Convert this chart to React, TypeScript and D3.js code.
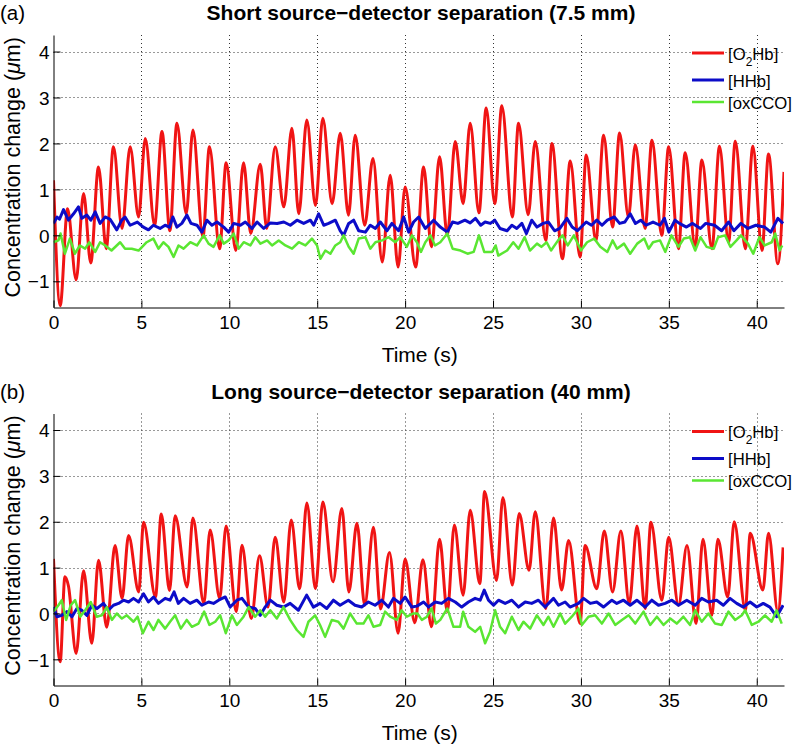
import React, { useRef, useEffect } from "react";
import * as d3 from "d3";

type Pt = [number, number];

// axis ticks
const xTicks = [0, 5, 10, 15, 20, 25, 30, 35, 40];
const yTicks = [-1, 0, 1, 2, 3, 4];
const xMax = 41.55;
const yMin = -1.57;
const yMax = 4.36;

const legendLabels = ["O2Hb", "HHb", "oxCCO"];
const lineColors = ["#f01414", "#0c0cc8", "#5ae632"];
const lineWidths = [3, 3, 2.5];

// (a) short separation, 7.5 mm
const shortO2Hb: Pt[] = [[0,1.2],[0.38,-1.53],[0.8,0.58],[1.29,-0.97],[1.71,0.91],[2.12,-0.6],[2.56,1.49],[3.0,-0.29],[3.41,1.93],[3.9,0.15],[4.36,1.93],[4.84,0.4],[5.22,2.11],[5.75,0.22],[6.17,2.26],[6.62,0.1],[7.02,2.44],[7.55,0.47],[7.93,2.29],[8.5,-0.04],[8.87,1.93],[9.45,-0.29],[9.82,1.58],[10.37,-0.33],[10.81,1.58],[11.22,0.04],[11.76,1.55],[12.13,0.15],[12.61,1.93],[13.1,0.62],[13.56,2.33],[13.95,0.47],[14.41,2.51],[14.9,0.65],[15.32,2.55],[15.85,0.69],[16.31,2.22],[16.78,0.44],[17.16,2.18],[17.7,0.22],[18.17,1.67],[18.7,-0.58],[19.15,1.31],[19.6,-0.69],[20.0,1.05],[20.6,-0.69],[21.05,1.49],[21.5,-0.25],[21.96,1.71],[22.4,0.0],[22.85,2.04],[23.3,0.69],[23.7,2.44],[24.2,0.49],[24.61,2.77],[25.1,0.69],[25.5,2.82],[26.1,0.4],[26.45,2.44],[27.0,0.45],[27.4,2.04],[28.0,-0.11],[28.35,2.0],[28.95,-0.51],[29.39,1.62],[29.95,-0.47],[30.3,1.75],[30.85,-0.11],[31.29,2.18],[31.8,0.18],[32.2,2.23],[32.7,0.4],[33.09,1.97],[33.65,0.15],[34.04,2.07],[34.6,0.0],[34.99,1.93],[35.55,-0.29],[35.93,1.8],[36.5,-0.25],[36.88,1.64],[37.45,-0.29],[37.88,1.94],[38.4,-0.15],[38.78,2.05],[39.35,-0.29],[39.78,1.94],[40.3,-0.33],[40.67,1.77],[41.2,-0.62],[41.55,1.38]];

const shortHHb: Pt[] = [[0,0.26],[0.2,0.4],[0.34,0.35],[0.57,0.56],[0.85,0.33],[1.14,0.47],[1.42,0.62],[1.61,0.37],[1.9,0.44],[2.12,0.33],[2.37,0.51],[2.65,0.26],[2.94,0.4],[3.22,0.35],[3.6,0.12],[3.88,0.33],[4.07,0.4],[4.36,0.22],[4.77,0.29],[5.11,0.18],[5.4,0.12],[5.68,0.22],[6.06,0.15],[6.35,0.22],[6.6,0.18],[6.79,0.4],[7.02,0.18],[7.3,0.26],[7.59,0.44],[7.82,0.26],[8.16,0.22],[8.44,0.07],[8.73,0.33],[9.01,0.22],[9.3,0.29],[9.68,0.18],[9.96,0.07],[10.25,0.26],[10.63,0.22],[10.91,0.29],[11.29,0.15],[11.58,0.29],[11.96,0.15],[12.34,0.27],[12.72,0.26],[13.1,0.29],[13.47,0.22],[13.85,0.33],[14.23,0.26],[14.61,0.33],[14.8,0.22],[15.08,0.47],[15.37,0.22],[15.65,0.26],[16.03,0.33],[16.31,0.1],[16.5,0.0],[16.79,0.26],[17.07,0.33],[17.36,0.1],[17.74,0.07],[18.02,0.22],[18.31,0.15],[18.59,0.29],[18.97,0.1],[19.25,0.26],[19.63,0.1],[19.92,0.4],[20.2,0.07],[20.48,0.29],[20.77,0.4],[21.15,0.15],[21.62,0.33],[22.0,0.18],[22.4,0.07],[22.7,0.29],[23.0,0.26],[23.4,0.33],[23.7,0.27],[24.0,0.37],[24.3,0.22],[24.55,0.29],[24.85,0.26],[25.1,0.33],[25.4,0.15],[25.8,0.1],[26.07,0.22],[26.35,0.15],[26.64,0.26],[26.9,0.04],[27.2,0.33],[27.5,0.18],[27.85,0.26],[28.15,0.29],[28.5,0.1],[28.8,0.15],[29.2,0.37],[29.5,0.18],[29.8,0.1],[30.3,0.29],[30.6,0.22],[30.9,0.33],[31.2,0.22],[31.5,0.33],[31.9,0.4],[32.2,0.26],[32.5,0.29],[32.8,0.47],[33.1,0.26],[33.4,0.33],[33.7,0.22],[34.1,0.29],[34.5,0.22],[34.75,0.37],[35.0,0.07],[35.35,0.33],[35.6,0.26],[36.0,0.18],[36.35,0.26],[36.8,0.15],[37.1,0.26],[37.6,0.22],[38.0,0.1],[38.4,0.29],[38.7,0.1],[39.1,0.26],[39.5,0.15],[39.95,0.22],[40.45,0.18],[40.8,0.07],[41.2,0.37],[41.5,0.26]];

const shortOxCCO: Pt[] = [[0,-0.15],[0.28,-0.11],[0.4,0.04],[0.65,-0.4],[0.93,-0.07],[1.22,-0.4],[1.5,-0.22],[1.8,-0.29],[2.04,-0.15],[2.37,-0.36],[2.65,-0.15],[2.94,-0.22],[3.3,-0.33],[3.79,-0.15],[4.07,-0.29],[4.45,-0.29],[4.84,-0.33],[5.3,-0.15],[5.68,-0.07],[5.97,-0.29],[6.25,-0.15],[6.54,-0.25],[6.83,-0.47],[7.11,-0.22],[7.4,-0.29],[7.78,-0.15],[8.16,-0.22],[8.54,0.0],[8.82,-0.18],[9.1,-0.25],[9.45,0.0],[9.68,-0.18],[9.96,-0.11],[10.25,0.04],[10.53,-0.29],[10.82,-0.15],[11.2,-0.22],[11.48,-0.04],[11.77,-0.18],[12.15,-0.11],[12.43,-0.22],[12.81,-0.11],[13.19,-0.22],[13.57,-0.29],[13.95,-0.15],[14.33,-0.22],[14.7,-0.07],[14.99,-0.22],[15.18,-0.51],[15.46,-0.33],[15.75,-0.4],[16.03,-0.22],[16.31,-0.15],[16.5,0.0],[16.79,-0.25],[17.07,-0.4],[17.36,-0.07],[17.74,-0.04],[18.02,-0.29],[18.31,-0.15],[18.69,-0.11],[19.06,-0.04],[19.44,-0.15],[19.72,-0.04],[20.1,-0.25],[20.39,0.0],[20.67,-0.15],[20.9,-0.36],[21.15,-0.15],[21.44,0.0],[21.7,-0.22],[22.0,-0.15],[22.4,0.04],[22.7,-0.29],[23.15,-0.33],[23.55,-0.4],[23.9,-0.36],[24.2,0.0],[24.5,-0.36],[24.95,-0.36],[25.15,-0.22],[25.3,-0.44],[25.8,-0.33],[26.15,-0.15],[26.45,-0.29],[26.8,-0.04],[27.1,-0.33],[27.5,-0.18],[27.75,-0.25],[28.05,-0.15],[28.3,-0.33],[28.7,-0.11],[28.95,0.0],[29.25,-0.22],[29.6,0.0],[30.0,-0.33],[30.35,-0.15],[30.75,-0.07],[31.1,-0.25],[31.5,-0.36],[31.8,-0.11],[32.05,-0.29],[32.45,-0.18],[32.8,-0.4],[33.2,-0.18],[33.6,-0.07],[33.85,-0.29],[34.1,-0.15],[34.5,-0.11],[34.8,-0.36],[35.15,0.0],[35.55,-0.25],[35.85,-0.07],[36.2,-0.04],[36.5,-0.33],[36.8,-0.04],[37.15,-0.25],[37.55,-0.29],[37.8,-0.04],[38.2,0.0],[38.5,-0.25],[38.85,-0.11],[39.1,0.0],[39.5,-0.18],[39.8,-0.4],[40.15,-0.04],[40.45,-0.22],[40.85,-0.15],[41.05,0.04],[41.3,-0.33],[41.45,-0.22]];

// (b) long separation, 40 mm
const longO2Hb: Pt[] = [[0,1.19],[0.38,-1.05],[0.65,0.8],[0.85,0.6],[1.29,-0.87],[1.71,0.93],[2.18,-0.65],[2.56,1.16],[3.03,-0.3],[3.5,1.48],[3.9,0.33],[4.27,1.7],[4.85,0.47],[5.12,1.99],[5.8,0.36],[6.13,2.17],[6.6,0.5],[6.92,2.13],[7.6,0.58],[7.93,2.08],[8.55,0.22],[8.91,1.82],[9.45,0.33],[9.82,1.91],[10.4,0.04],[10.72,1.49],[11.25,-0.11],[11.72,1.26],[12.2,0.14],[12.61,1.66],[13.1,0.25],[13.52,2.04],[14.0,0.54],[14.41,2.41],[14.9,0.54],[15.32,2.43],[15.9,0.69],[16.4,2.29],[16.8,0.47],[17.26,1.97],[17.7,0.18],[18.2,1.88],[18.6,0.1],[19.11,1.33],[19.6,-0.43],[20.0,1.19],[20.55,-0.2],[21.01,1.17],[21.5,-0.29],[21.96,1.62],[22.4,0.04],[22.8,1.93],[23.3,0.4],[23.7,2.25],[24.25,0.65],[24.52,2.66],[25.2,0.72],[25.56,2.53],[26.1,0.62],[26.49,2.18],[27.05,0.94],[27.4,2.22],[28.0,0.11],[28.44,2.08],[28.9,0.51],[29.3,1.59],[29.95,-0.22],[30.24,1.48],[30.9,0.54],[31.33,1.8],[31.8,0.47],[32.27,1.8],[32.75,0.22],[33.19,1.91],[33.65,0.11],[33.98,1.99],[34.6,0.29],[34.99,1.66],[35.55,0.18],[36.03,1.48],[36.55,-0.22],[36.94,1.62],[37.45,-0.04],[37.79,1.62],[38.35,0.36],[38.72,2.0],[39.35,0.07],[39.63,1.75],[40.35,0.51],[40.67,1.75],[41.2,0.04],[41.5,1.44]];

const longHHb: Pt[] = [[0,0.14],[0.2,-0.07],[0.47,-0.04],[0.76,0.04],[1.05,-0.07],[1.33,0.11],[1.61,0.07],[1.9,-0.04],[2.18,0.18],[2.47,0.11],[2.84,0.22],[3.12,0.07],[3.41,0.18],[3.7,0.22],[3.98,0.29],[4.27,0.25],[4.55,0.33],[4.84,0.25],[5.12,0.43],[5.4,0.25],[5.69,0.36],[5.97,0.22],[6.35,0.33],[6.63,0.29],[6.86,0.47],[7.1,0.22],[7.4,0.33],[7.77,0.22],[8.15,0.29],[8.44,0.18],[8.82,0.25],[9.1,0.22],[9.39,0.29],[9.77,0.36],[10.05,0.14],[10.43,0.29],[10.72,0.33],[11.1,0.14],[11.47,0.11],[11.76,-0.04],[12.04,0.14],[12.33,0.29],[12.7,0.18],[13.08,0.14],[13.46,0.22],[13.93,0.07],[14.4,0.4],[14.78,0.14],[15.16,0.22],[15.54,0.11],[15.92,0.29],[16.3,0.18],[16.77,0.29],[17.15,0.18],[17.53,0.14],[17.91,0.25],[18.29,0.18],[18.67,0.29],[19.05,0.14],[19.34,0.33],[19.72,0.22],[20.0,0.36],[20.38,0.14],[20.67,0.16],[21.05,0.25],[21.33,0.14],[21.71,0.25],[22.08,0.22],[22.46,0.33],[22.85,0.25],[23.22,0.14],[23.6,0.25],[23.98,0.33],[24.27,0.29],[24.5,0.51],[24.74,0.29],[25.03,0.18],[25.31,0.29],[25.69,0.22],[26.07,0.29],[26.45,0.14],[26.83,0.25],[27.2,0.22],[27.58,0.29],[27.96,0.14],[28.44,0.33],[28.72,0.18],[29.1,0.25],[29.38,0.14],[29.86,0.22],[30.15,0.33],[30.53,0.22],[30.9,0.25],[31.28,0.14],[31.76,0.29],[32.04,0.22],[32.42,0.29],[32.8,0.18],[33.18,0.29],[33.65,0.14],[34.03,0.29],[34.41,0.18],[34.79,0.22],[35.17,0.29],[35.55,0.18],[36.02,0.29],[36.5,0.18],[36.87,0.33],[37.25,0.25],[37.72,0.29],[38.1,0.18],[38.48,0.33],[38.86,0.22],[39.24,0.14],[39.62,0.25],[40.0,0.14],[40.37,0.22],[40.75,0.14],[41.13,-0.07],[41.5,0.18]];

const longOxCCO: Pt[] = [[0,0.04],[0.28,0.18],[0.47,0.29],[0.72,-0.14],[0.98,0.18],[1.23,0.29],[1.52,-0.07],[1.8,0.07],[2.12,0.25],[2.46,-0.07],[2.75,-0.04],[3.03,0.14],[3.32,-0.14],[3.6,0.0],[3.89,-0.11],[4.17,-0.04],[4.55,-0.18],[4.78,-0.07],[5.08,-0.43],[5.4,-0.18],[5.69,-0.36],[5.97,-0.14],[6.35,-0.33],[6.63,-0.18],[6.92,-0.04],[7.24,-0.33],[7.58,-0.14],[7.87,-0.29],[8.25,-0.22],[8.57,0.04],[8.87,-0.25],[9.2,-0.18],[9.48,-0.04],[9.8,-0.43],[10.15,-0.04],[10.43,-0.25],[10.81,-0.07],[11.1,0.14],[11.47,-0.07],[11.76,0.07],[12.04,-0.07],[12.33,0.07],[12.7,-0.11],[13.08,0.14],[13.46,-0.14],[13.84,-0.36],[14.22,-0.51],[14.5,-0.18],[14.88,-0.04],[15.16,-0.25],[15.45,-0.51],[15.83,-0.14],[16.2,-0.18],[16.5,-0.33],[16.87,0.0],[17.25,-0.22],[17.63,-0.22],[17.91,-0.04],[18.2,-0.29],[18.58,-0.25],[18.86,0.04],[19.15,-0.07],[19.53,-0.14],[19.8,0.07],[20.1,-0.07],[20.48,0.0],[20.7,0.0],[20.95,-0.14],[21.24,-0.07],[21.5,0.11],[21.75,-0.22],[22.0,-0.14],[22.4,0.11],[22.75,-0.29],[23.13,-0.29],[23.3,0.04],[23.6,-0.29],[23.98,-0.4],[24.27,-0.29],[24.55,-0.65],[24.83,-0.4],[25.12,0.07],[25.4,-0.29],[25.69,-0.43],[26.07,-0.07],[26.45,-0.36],[26.73,-0.18],[27.11,-0.33],[27.49,-0.04],[27.87,-0.25],[28.15,-0.07],[28.44,-0.29],[28.82,0.0],[29.1,-0.22],[29.48,-0.07],[29.86,0.11],[30.05,-0.25],[30.43,-0.07],[30.81,-0.04],[31.19,-0.22],[31.57,0.0],[31.95,-0.25],[32.33,-0.14],[32.71,-0.04],[33.09,-0.22],[33.56,0.04],[33.94,-0.25],[34.32,-0.07],[34.7,-0.25],[35.08,-0.11],[35.45,-0.22],[35.83,-0.07],[36.21,-0.25],[36.5,0.07],[36.87,-0.18],[37.25,0.0],[37.63,-0.22],[38.01,-0.25],[38.39,0.04],[38.77,-0.14],[39.15,-0.04],[39.34,0.07],[39.72,-0.25],[40.1,-0.18],[40.47,-0.04],[40.85,-0.18],[41.13,0.07],[41.42,-0.22]];

const panels = [
    { tag: "(a)", title: "Short source\u2212detector separation (7.5 mm)", series: [shortO2Hb, shortHHb, shortOxCCO] },
    { tag: "(b)", title: "Long source\u2212detector separation (40 mm)", series: [longO2Hb, longHHb, longOxCCO] },
];

const FONT = "'Liberation Sans', Arial, Helvetica, sans-serif";

const App = () => {
    const plot = useRef<SVGSVGElement>(null);

    const width = 805;
    const height = 748;
    const plotLeft = 53.5;
    const plotRight = 784;
    const panelTops = [35, 413.5];
    const panelBottoms = [307.5, 685.5];

    useEffect(() => {
        const svg = d3.select(plot.current);
        svg.selectAll("*").remove();

        const xScale = d3.scaleLinear().domain([0, xMax]).range([plotLeft, plotRight]);

        panels.forEach((p, pi) => {
            const top = panelTops[pi];
            const bottom = panelBottoms[pi];
            const yScale = d3.scaleLinear().domain([yMin, yMax]).range([bottom, top]);
            const g = svg.append("g");

            // dotted grid
            g.append("g")
                .selectAll("line")
                .data(xTicks.filter(d => d > 0))
                .join("line")
                .attr("x1", d => Math.round(xScale(d)) + 0.5).attr("x2", d => Math.round(xScale(d)) + 0.5)
                .attr("y1", top).attr("y2", bottom)
                .attr("stroke", "#333").attr("stroke-width", 1)
                .attr("stroke-dasharray", "1,3");
            g.append("g")
                .selectAll("line")
                .data(yTicks)
                .join("line")
                .attr("x1", plotLeft).attr("x2", plotRight)
                .attr("y1", d => Math.round(yScale(d)) + 0.5).attr("y2", d => Math.round(yScale(d)) + 0.5)
                .attr("stroke", "#333").attr("stroke-width", 1)
                .attr("stroke-dasharray", "1,3");

            // data lines
            const clipId = `clip-${pi}`;
            svg.append("clipPath").attr("id", clipId)
                .append("rect")
                .attr("x", plotLeft).attr("y", top)
                .attr("width", plotRight - plotLeft).attr("height", bottom - top);

            p.series.forEach((s, si) => {
                const line = d3.line<Pt>()
                    .x(d => xScale(d[0]))
                    .y(d => yScale(d[1]))
                    .curve(si === 0 ? d3.curveMonotoneX : d3.curveLinear);
                g.append("path")
                    .attr("clip-path", `url(#${clipId})`)
                    .attr("fill", "none")
                    .attr("stroke", lineColors[si])
                    .attr("stroke-width", lineWidths[si])
                    .attr("stroke-linejoin", "round")
                    .attr("d", line(s));
            });

            // axes
            const fmt = (d: d3.NumberValue) => (+d < 0 ? "\u2212" + Math.abs(+d) : String(d));
            g.append("g")
                .attr("transform", `translate(0, ${bottom})`)
                .call(d3.axisBottom(xScale).tickValues(xTicks).tickSizeInner(-7).tickSizeOuter(0).tickPadding(8).tickFormat(fmt))
                .call(a => a.selectAll("text").attr("font-size", 19).attr("font-family", FONT).attr("fill", "#000"));
            g.append("g")
                .attr("transform", `translate(${plotLeft}, 0)`)
                .call(d3.axisLeft(yScale).tickValues(yTicks).tickSizeInner(-7).tickSizeOuter(0).tickPadding(4).tickFormat(fmt))
                .call(a => a.selectAll("text").attr("font-size", 19).attr("font-family", FONT).attr("fill", "#000").attr("dy", "0.35em"));

            // labels
            g.append("text")
                .attr("x", 0).attr("y", top - 15)
                .attr("font-family", FONT).attr("font-size", 20.5)
                .text(p.tag);
            g.append("text")
                .attr("x", 421).attr("y", top - 15)
                .attr("text-anchor", "middle")
                .attr("font-family", FONT).attr("font-size", 21).attr("font-weight", "bold")
                .text(p.title);
            g.append("text")
                .attr("x", (plotLeft + plotRight) / 2 + 1).attr("y", bottom + 54.5)
                .attr("text-anchor", "middle")
                .attr("font-family", FONT).attr("font-size", 21)
                .text("Time (s)");
            const yl = g.append("text")
                .attr("transform", `translate(19.5, ${(top + bottom) / 2 - 4}) rotate(-90)`)
                .attr("text-anchor", "middle")
                .attr("font-family", FONT).attr("font-size", 21.5);
            yl.append("tspan").text("Concentration change (");
            yl.append("tspan").attr("font-style", "italic").text("\u03bc");
            yl.append("tspan").text("m)");

            // legend
            const legendRows = [18, 45, 67];
            legendLabels.forEach((name, li) => {
                const ly = top + legendRows[li];
                g.append("line")
                    .attr("x1", plotRight - 92).attr("x2", plotRight - 60)
                    .attr("y1", ly).attr("y2", ly)
                    .attr("stroke", lineColors[li]).attr("stroke-width", lineWidths[li]);
                const t = g.append("text")
                    .attr("x", plotRight - 56).attr("y", ly + 6.5)
                    .attr("font-family", FONT).attr("font-size", 16.7);
                if (name === "O2Hb") {
                    t.append("tspan").text("[O");
                    t.append("tspan").attr("font-size", 12).attr("dy", 6).text("2");
                    t.append("tspan").attr("dy", -6).text("Hb]");
                } else {
                    t.text(`[${name}]`);
                }
            });
        });
    }, []);

    return (
        <svg ref={plot} width={width} height={height}
            style={{ position: "absolute", left: 0, top: 0, background: "#fff" }} />
    );
};

export default App;
